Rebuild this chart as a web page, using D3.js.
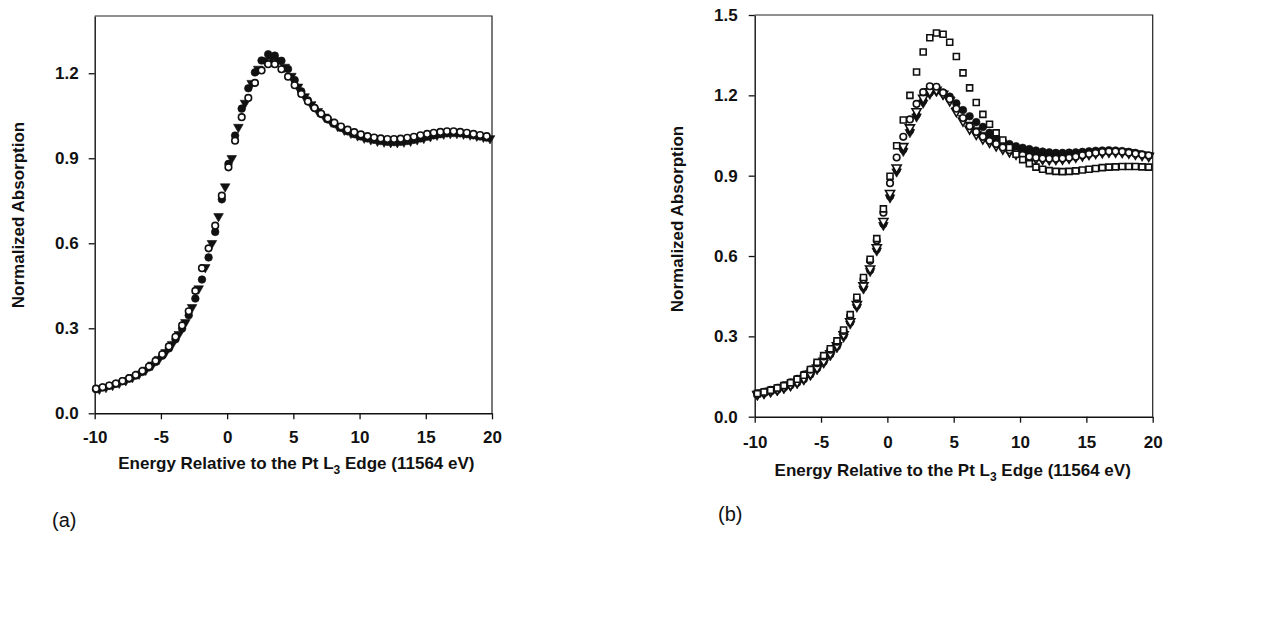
<!DOCTYPE html>
<html>
<head>
<meta charset="utf-8">
<script src="https://cdn.jsdelivr.net/npm/d3@7"></script>
<style>
  html, body { margin: 0; padding: 0; background: #fff; }
  svg { display: block; }
  text { font-family: "Liberation Sans", Arial, sans-serif; fill: #111; }
</style>
</head>
<body>
<svg id="chart" width="1263" height="631"></svg>
<script>
// ---- Panel (a): Pt L3 XANES, three samples ----
const energyA = [-9.9, -9.4, -8.9, -8.4, -7.9, -7.4, -6.9, -6.4, -5.9, -5.4, -4.9, -4.4, -3.9, -3.4, -2.9, -2.4, -1.9, -1.4, -0.9, -0.4,
  0.1, 0.6, 1.1, 1.6, 2.1, 2.6, 3.1, 3.6, 4.1, 4.6, 5.1, 5.6, 6.1, 6.6, 7.1, 7.6, 8.1, 8.6, 9.1, 9.6,
  10.1, 10.6, 11.1, 11.6, 12.1, 12.6, 13.1, 13.6, 14.1, 14.6, 15.1, 15.6, 16.1, 16.6, 17.1, 17.6, 18.1, 18.6, 19.1, 19.6];
const filledCircleA = [0.085, 0.091, 0.097, 0.104, 0.113, 0.122, 0.133, 0.146, 0.162, 0.181, 0.203, 0.229, 0.261, 0.299, 0.346, 0.405, 0.472, 0.550, 0.640, 0.755,
  0.880, 0.980, 1.075, 1.147, 1.203, 1.245, 1.267, 1.262, 1.244, 1.215, 1.176, 1.136, 1.104, 1.078, 1.056, 1.037, 1.021, 1.007, 0.995, 0.985,
  0.977, 0.970, 0.965, 0.961, 0.958, 0.957, 0.958, 0.961, 0.965, 0.970, 0.976, 0.981, 0.985, 0.988, 0.989, 0.988, 0.985, 0.981, 0.977, 0.973];
const openCircleA = [0.087, 0.092, 0.098, 0.105, 0.114, 0.124, 0.135, 0.149, 0.165, 0.185, 0.208, 0.236, 0.270, 0.310, 0.360, 0.432, 0.512, 0.582, 0.662, 0.768,
  0.868, 0.962, 1.045, 1.113, 1.166, 1.210, 1.232, 1.232, 1.214, 1.188, 1.158, 1.127, 1.100, 1.077, 1.057, 1.040, 1.025, 1.012, 1.001, 0.992,
  0.984, 0.978, 0.973, 0.970, 0.968, 0.968, 0.969, 0.972, 0.976, 0.981, 0.986, 0.990, 0.993, 0.995, 0.995, 0.993, 0.990, 0.986, 0.982, 0.978];
const energyATri = [-9.65, -9.15, -8.65, -8.15, -7.65, -7.15, -6.65, -6.15, -5.65, -5.15, -4.65, -4.15, -3.65, -3.15, -2.65, -2.15, -1.65, -1.15, -0.65, -0.15,
  0.35, 0.85, 1.35, 1.85, 2.35, 2.85, 3.35, 3.85, 4.35, 4.85, 5.35, 5.85, 6.35, 6.85, 7.35, 7.85, 8.35, 8.85, 9.35, 9.85,
  10.35, 10.85, 11.35, 11.85, 12.35, 12.85, 13.35, 13.85, 14.35, 14.85, 15.35, 15.85, 16.35, 16.85, 17.35, 17.85, 18.35, 18.85, 19.35, 19.85];
const filledTriA = [0.086, 0.092, 0.099, 0.107, 0.116, 0.127, 0.139, 0.153, 0.171, 0.191, 0.215, 0.244, 0.279, 0.321, 0.374, 0.440, 0.515, 0.600, 0.695, 0.800,
  0.900, 1.010, 1.095, 1.165, 1.215, 1.245, 1.255, 1.245, 1.222, 1.190, 1.152, 1.118, 1.090, 1.066, 1.046, 1.029, 1.013, 1.000, 0.989, 0.980,
  0.972, 0.966, 0.961, 0.958, 0.956, 0.956, 0.958, 0.961, 0.966, 0.971, 0.977, 0.982, 0.986, 0.988, 0.988, 0.986, 0.983, 0.979, 0.975, 0.970];

// ---- Panel (b): Pt L3 XANES, five samples ----
const energyB = [-9.8, -9.3, -8.8, -8.3, -7.8, -7.3, -6.8, -6.3, -5.8, -5.3, -4.8, -4.3, -3.8, -3.3, -2.8, -2.3, -1.8, -1.3, -0.8, -0.3,
  0.2, 0.7, 1.2, 1.7, 2.2, 2.7, 3.2, 3.7, 4.2, 4.7, 5.2, 5.7, 6.2, 6.7, 7.2, 7.7, 8.2, 8.7, 9.2, 9.7,
  10.2, 10.7, 11.2, 11.7, 12.2, 12.7, 13.2, 13.7, 14.2, 14.7, 15.2, 15.7, 16.2, 16.7, 17.2, 17.7, 18.2, 18.7, 19.2, 19.7];
const squareB = [0.086, 0.092, 0.099, 0.107, 0.116, 0.127, 0.140, 0.155, 0.176, 0.203, 0.228, 0.254, 0.283, 0.324, 0.381, 0.446, 0.520, 0.588, 0.665, 0.776,
  0.898, 1.012, 1.108, 1.200, 1.287, 1.362, 1.415, 1.433, 1.428, 1.398, 1.345, 1.284, 1.228, 1.173, 1.129, 1.092, 1.060, 1.033, 1.005, 0.980,
  0.960, 0.945, 0.932, 0.924, 0.919, 0.916, 0.915, 0.916, 0.918, 0.921, 0.924, 0.927, 0.930, 0.932, 0.933, 0.934, 0.934, 0.934, 0.933, 0.932];
const openCircleB = [0.087, 0.093, 0.100, 0.108, 0.117, 0.128, 0.141, 0.157, 0.176, 0.200, 0.225, 0.250, 0.280, 0.320, 0.376, 0.440, 0.512, 0.582, 0.658, 0.762,
  0.872, 0.968, 1.045, 1.110, 1.168, 1.212, 1.234, 1.232, 1.210, 1.185, 1.150, 1.115, 1.085, 1.063, 1.045, 1.030, 1.018, 1.005, 0.995, 0.985,
  0.977, 0.971, 0.967, 0.964, 0.963, 0.963, 0.964, 0.967, 0.971, 0.976, 0.981, 0.985, 0.988, 0.990, 0.990, 0.989, 0.986, 0.982, 0.978, 0.975];
const filledCircleB = [0.083, 0.088, 0.094, 0.100, 0.108, 0.117, 0.127, 0.140, 0.158, 0.180, 0.205, 0.233, 0.263, 0.303, 0.352, 0.415, 0.483, 0.547, 0.625, 0.720,
  0.823, 0.922, 0.998, 1.068, 1.127, 1.180, 1.210, 1.218, 1.210, 1.195, 1.170, 1.145, 1.122, 1.100, 1.082, 1.060, 1.044, 1.029, 1.018, 1.010,
  1.004, 0.999, 0.994, 0.990, 0.987, 0.985, 0.985, 0.986, 0.987, 0.989, 0.991, 0.993, 0.994, 0.995, 0.994, 0.992, 0.989, 0.985, 0.980, 0.975];
const filledTriB = [0.081, 0.086, 0.092, 0.098, 0.106, 0.115, 0.125, 0.138, 0.155, 0.177, 0.201, 0.229, 0.259, 0.298, 0.347, 0.410, 0.478, 0.543, 0.620, 0.715,
  0.818, 0.915, 0.992, 1.062, 1.120, 1.172, 1.205, 1.215, 1.205, 1.185, 1.145, 1.115, 1.090, 1.070, 1.052, 1.038, 1.025, 1.012, 1.002, 0.993,
  0.986, 0.980, 0.976, 0.973, 0.972, 0.972, 0.973, 0.975, 0.978, 0.982, 0.986, 0.989, 0.991, 0.992, 0.992, 0.990, 0.987, 0.983, 0.979, 0.975];
const openTriB = [0.084, 0.090, 0.096, 0.102, 0.110, 0.119, 0.129, 0.143, 0.161, 0.183, 0.208, 0.236, 0.266, 0.307, 0.356, 0.420, 0.490, 0.553, 0.632, 0.730,
  0.835, 0.930, 1.010, 1.080, 1.140, 1.190, 1.215, 1.220, 1.205, 1.180, 1.140, 1.105, 1.075, 1.055, 1.038, 1.025, 1.012, 1.000, 0.990, 0.981,
  0.974, 0.968, 0.964, 0.962, 0.961, 0.962, 0.963, 0.966, 0.970, 0.975, 0.980, 0.984, 0.987, 0.989, 0.989, 0.988, 0.985, 0.981, 0.977, 0.973];

// ---- Axis ticks ----
const xTicks = [-10, -5, 0, 5, 10, 15, 20];
const yTicksA = [0.0, 0.3, 0.6, 0.9, 1.2];
const yTicksB = [0.0, 0.3, 0.6, 0.9, 1.2, 1.5];

const svg = d3.select("#chart");
svg.append("rect").attr("width", 1263).attr("height", 631).attr("fill", "#fff");

// marker shapes
const shapes = {
  filledCircle: { type: d3.symbolCircle, size: 46, fill: "#111", rotate: 0 },
  openCircle:   { type: d3.symbolCircle, size: 34, fill: "#fff", rotate: 0 },
  filledTri:    { type: d3.symbolTriangle, size: 40, fill: "#111", rotate: 180 },
  openTri:      { type: d3.symbolTriangle, size: 36, fill: "#fff", rotate: 180 },
  openSquare:   { type: d3.symbolSquare, size: 36, fill: "#fff", rotate: 0 }
};

const font = "Liberation Sans, Arial, sans-serif";

function drawPanel(cfg) {
  const g = svg.append("g");
  const x = d3.scaleLinear().domain([-10, 20]).range([cfg.left, cfg.right]);
  const y = d3.scaleLinear().domain([0, cfg.yMax]).range([cfg.bottom, cfg.top]);

  // frame (top and right)
  g.append("path")
    .attr("d", `M${cfg.left},${cfg.top}H${cfg.right}V${cfg.bottom}`)
    .attr("fill", "none").attr("stroke", "#222").attr("stroke-width", 1.2);

  // axes
  const xAxis = g.append("g").attr("transform", `translate(0,${cfg.bottom})`)
    .call(d3.axisBottom(x).tickValues(xTicks).tickFormat(d => String(d))
      .tickSizeInner(6).tickSizeOuter(0).tickPadding(cfg.xPad));
  const yAxis = g.append("g").attr("transform", `translate(${cfg.left},0)`)
    .call(d3.axisLeft(y).tickValues(cfg.yTicks).tickFormat(d => d.toFixed(1))
      .tickSizeInner(6).tickSizeOuter(0).tickPadding(cfg.yPad));
  [xAxis, yAxis].forEach(a => {
    a.selectAll("path.domain").attr("stroke", "#111").attr("stroke-width", 1.4);
    a.selectAll(".tick line").attr("stroke", "#111").attr("stroke-width", 1.3);
    a.selectAll(".tick text").attr("font-size", 17).attr("font-weight", "bold")
      .attr("font-family", font).attr("fill", "#1a1a1a");
  });

  // data markers
  cfg.series.forEach(s => {
    const sh = shapes[s.shape];
    const sym = d3.symbol().type(sh.type).size(sh.size);
    g.append("g").selectAll("path")
      .data(s.values.map((v, i) => [s.energy[i], v]))
      .join("path")
      .attr("d", sym)
      .attr("transform", d => `translate(${x(d[0])},${y(d[1])}) rotate(${sh.rotate})`)
      .attr("fill", sh.fill)
      .attr("stroke", "#111")
      .attr("stroke-width", sh.fill === "#fff" ? 1.6 : 0.6);
  });

  // axis titles
  const xt = g.append("text")
    .attr("x", (cfg.left + cfg.right) / 2 + cfg.xTitleDx)
    .attr("y", cfg.xTitleY)
    .attr("text-anchor", "middle")
    .attr("font-size", 17).attr("font-weight", "bold").attr("fill", "#1a1a1a");
  xt.append("tspan").text("Energy Relative to the Pt L");
  xt.append("tspan").attr("font-size", 12).attr("dy", 5).text("3");
  xt.append("tspan").attr("dy", -5).text(" Edge (11564 eV)");

  g.append("text")
    .attr("transform", `translate(${cfg.yTitleX},${cfg.yTitleY}) rotate(-90)`)
    .attr("text-anchor", "middle")
    .attr("font-size", 17).attr("font-weight", "bold").attr("fill", "#1a1a1a")
    .text("Normalized Absorption");

  g.append("text")
    .attr("x", cfg.tagX).attr("y", cfg.tagY)
    .attr("font-family", "Liberation Serif, Times New Roman, serif")
    .attr("font-size", 20)
    .text(cfg.tag);
}

drawPanel({
  left: 94.7, right: 492, top: 16, bottom: 413.3, yMax: 1.402,
  yTicks: yTicksA, xPad: 12, yPad: 10,
  xTitleDx: 3, xTitleY: 469, yTitleX: 24, yTitleY: 215,
  tag: "(a)", tagX: 52, tagY: 527,
  series: [
    { shape: "filledTri", energy: energyATri, values: filledTriA },
    { shape: "filledCircle", energy: energyA, values: filledCircleA },
    { shape: "openCircle", energy: energyA, values: openCircleA }
  ]
});

drawPanel({
  left: 754.7, right: 1152.7, top: 15, bottom: 416.7, yMax: 1.5,
  yTicks: yTicksB, xPad: 13, yPad: 11,
  xTitleDx: -1, xTitleY: 476, yTitleX: 683, yTitleY: 219,
  tag: "(b)", tagX: 718, tagY: 521,
  series: [
    { shape: "filledCircle", energy: energyB, values: filledCircleB },
    { shape: "filledTri", energy: energyB, values: filledTriB },
    { shape: "openTri", energy: energyB, values: openTriB },
    { shape: "openCircle", energy: energyB, values: openCircleB },
    { shape: "openSquare", energy: energyB, values: squareB }
  ]
});
</script>
</body>
</html>
